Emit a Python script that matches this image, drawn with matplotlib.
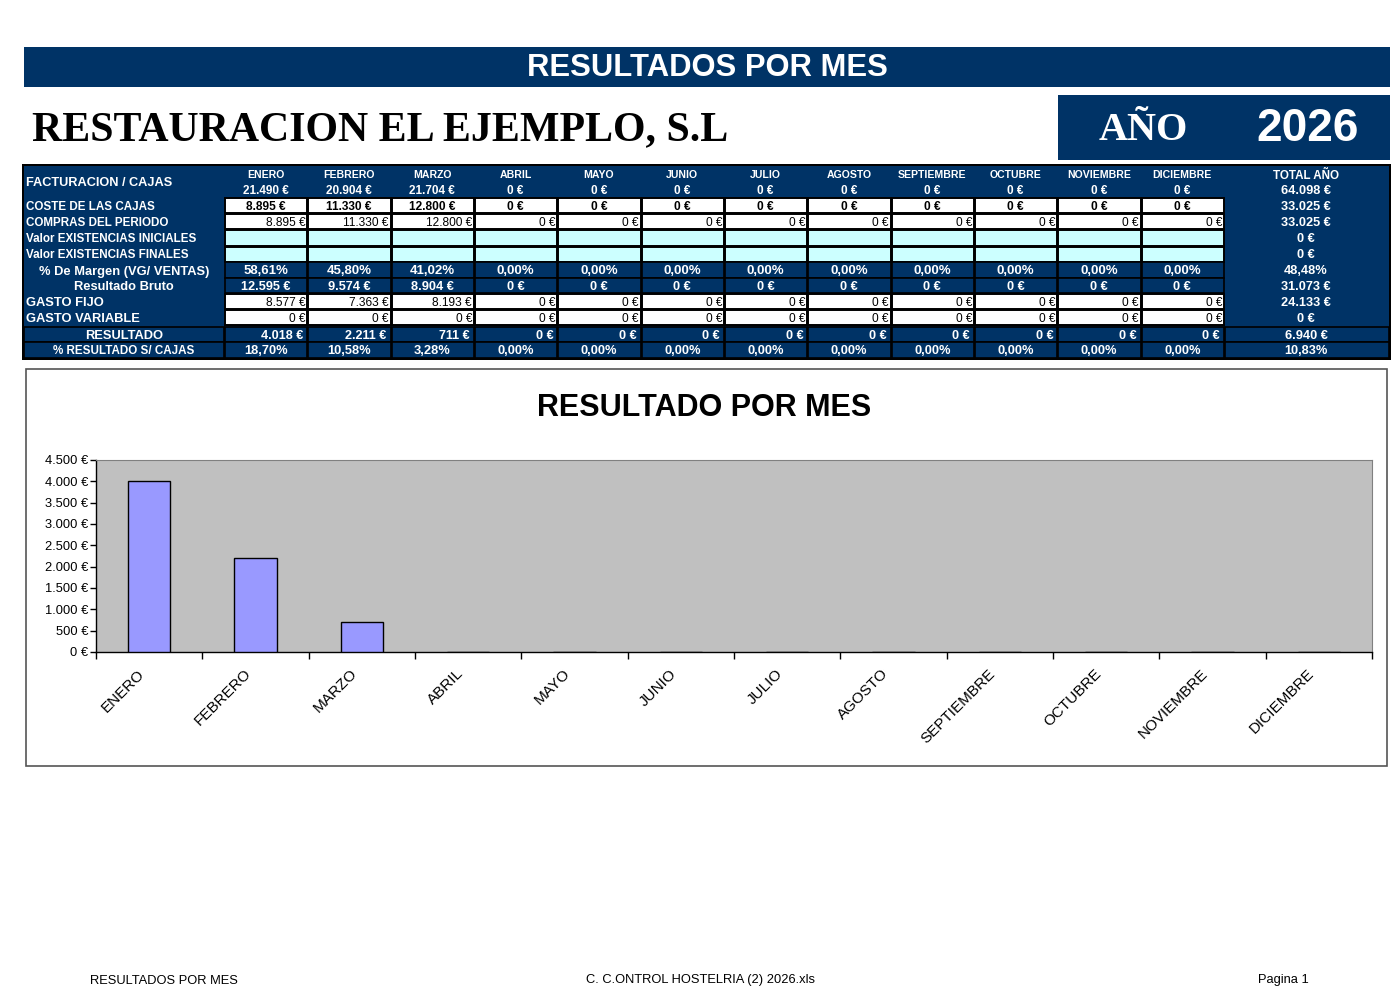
import matplotlib
matplotlib.use("Agg")
import matplotlib.pyplot as plt
import matplotlib.transforms as mtransforms
import numpy as np
from matplotlib.patches import Rectangle
from matplotlib.ticker import FuncFormatter, MultipleLocator

plt.rcParams['font.family'] = ['Liberation Sans', 'DejaVu Sans']

# ---- data ----
meses = ['ENERO', 'FEBRERO', 'MARZO', 'ABRIL', 'MAYO', 'JUNIO', 'JULIO',
         'AGOSTO', 'SEPTIEMBRE', 'OCTUBRE', 'NOVIEMBRE', 'DICIEMBRE']
facturacion = [21490, 20904, 21704, 0, 0, 0, 0, 0, 0, 0, 0, 0]
coste_cajas = [8895, 11330, 12800, 0, 0, 0, 0, 0, 0, 0, 0, 0]
compras = [8895, 11330, 12800, 0, 0, 0, 0, 0, 0, 0, 0, 0]
margen_pct = [58.61, 45.80, 41.02, 0, 0, 0, 0, 0, 0, 0, 0, 0]
resultado_bruto = [12595, 9574, 8904, 0, 0, 0, 0, 0, 0, 0, 0, 0]
gasto_fijo = [8577, 7363, 8193, 0, 0, 0, 0, 0, 0, 0, 0, 0]
gasto_variable = [0, 0, 0, 0, 0, 0, 0, 0, 0, 0, 0, 0]
resultado = [4018, 2211, 711, 0, 0, 0, 0, 0, 0, 0, 0, 0]
resultado_pct = [18.70, 10.58, 3.28, 0, 0, 0, 0, 0, 0, 0, 0, 0]

# total column: facturacion, coste, compras, exist. ini, exist. fin,
# margen, bruto, fijo, variable, resultado, % resultado
total_eur = [64098, 33025, 33025, 0, 0, None, 31073, 24133, 0, 6940, None]
total_pct = [None, None, None, None, None, 48.48, None, None, None, None, 10.83]

anio = '2026'
empresa = 'RESTAURACION EL EJEMPLO, S.L'

BLUE = '#003366'
CYAN = '#CCFFFF'


def eur(v):
    return f"{v:,.0f}".replace(',', '.') + ' €'


def pct(v):
    return f"{v:.2f}".replace('.', ',') + '%'


fig = plt.figure(figsize=(14, 9.89), dpi=100)
bg = fig.add_axes([0, 0, 1, 1])
bg.set_xlim(0, 1400)
bg.set_ylim(989, 0)
bg.axis('off')


def box(x0, y0, x1, y1, face, edge='none', lw=0):
    bg.add_patch(Rectangle((x0, y0), x1 - x0, y1 - y0, facecolor=face,
                           edgecolor=edge, linewidth=lw))


# header banner
box(24, 47, 1390, 87, BLUE)
bg.text(707, 68.5, 'RESULTADOS POR MES', color='white', fontsize=22.3,
        fontweight='bold', ha='center', va='center')
bg.text(32, 130, empresa, fontsize=30.2, fontweight='bold', ha='left',
        va='center', family='Liberation Serif')
box(1058, 95, 1390, 160, BLUE)
bg.text(1143, 130, 'AÑO', color='white', fontsize=29, fontweight='bold',
        ha='center', va='center', family='Liberation Serif')
bg.text(1308, 129, anio, color='white', fontsize=33, fontweight='bold',
        ha='center', va='center')

# table
box(22, 164, 1391, 360, 'black')
box(24, 166, 1389, 358, BLUE)

LX0, LX1 = 24, 224
CW = (1224 - 224) / 12
TX0, TX1 = 1224, 1389
DY = 1.5
rows = {
    'hdr1': (166, 182), 'hdr2': (182, 197), 'coste': (197, 213),
    'compras': (213, 229), 'ini': (229, 246), 'fin': (246, 262),
    'margen': (262, 278), 'bruto': (278, 293), 'fijo': (293, 309),
    'var': (309, 325), 'res': (327, 342), 'rpct': (342, 358),
}


def ymid(key):
    a, b = rows[key]
    return (a + b) / 2 + DY


def col(i):
    return LX1 + i * CW, LX1 + (i + 1) * CW


bg.text(26, (166 + 197) / 2 + DY, 'FACTURACION / CAJAS', color='white',
        fontsize=9.2, fontweight='bold', ha='left', va='center')
left_labels = [('coste', 'COSTE DE LAS CAJAS', 8.4),
               ('compras', 'COMPRAS DEL PERIODO', 8.4),
               ('ini', 'Valor EXISTENCIAS INICIALES', 8.4),
               ('fin', 'Valor EXISTENCIAS FINALES', 8.4),
               ('fijo', 'GASTO FIJO', 9.3),
               ('var', 'GASTO VARIABLE', 9.3)]
for key, lab, fs in left_labels:
    bg.text(26, ymid(key), lab, color='white', fontsize=fs,
            fontweight='bold', ha='left', va='center')
for key, lab in [('margen', '% De Margen (VG/ VENTAS)'), ('bruto', 'Resultado Bruto')]:
    bg.text(124, ymid(key), lab, color='white', fontsize=9.3,
            fontweight='bold', ha='center', va='center')
for key, lab, fs in [('res', 'RESULTADO', 9.3), ('rpct', '% RESULTADO S/ CAJAS', 8.4)]:
    a, b = rows[key]
    box(LX0, a, LX1, b, BLUE, 'black', 1.2)
    bg.text(124, ymid(key), lab, color='white', fontsize=fs,
            fontweight='bold', ha='center', va='center')

for i, m in enumerate(meses):
    x0, x1 = col(i)
    xc = (x0 + x1) / 2
    bg.text(xc, ymid('hdr1'), m, color='white', fontsize=7.6,
            fontweight='bold', ha='center', va='center')
    bg.text(xc, ymid('hdr2'), eur(facturacion[i]), color='white',
            fontsize=8.5, fontweight='bold', ha='center', va='center')
    # white cells
    for key, vals, bold, align in [('coste', coste_cajas, True, 'center'),
                                   ('compras', compras, False, 'right'),
                                   ('fijo', gasto_fijo, False, 'right'),
                                   ('var', gasto_variable, False, 'right')]:
        a, b = rows[key]
        box(x0 + 1, a + 0.5, x1, b, 'white', 'black', 1.4)
        tx = xc if align == 'center' else x1 - 2
        bg.text(tx, ymid(key) + 0.5, eur(vals[i]), color='black', fontsize=8.6,
                fontweight='bold' if bold else 'normal', ha=align, va='center')
    for key in ('ini', 'fin'):
        a, b = rows[key]
        box(x0 + 1, a + 0.5, x1, b, CYAN, 'black', 1.4)
    # blue bordered cells
    for key, text, align, fs in [('margen', pct(margen_pct[i]), 'center', 9.5),
                                 ('bruto', eur(resultado_bruto[i]), 'center', 9.2),
                                 ('res', eur(resultado[i]), 'right', 9.1),
                                 ('rpct', pct(resultado_pct[i]), 'center', 9.3)]:
        a, b = rows[key]
        box(x0 + 1, a, x1, b, BLUE, 'black', 1.2)
        tx = xc if align == 'center' else x1 - 4
        bg.text(tx, ymid(key), text, color='white', fontsize=fs,
                fontweight='bold', ha=align, va='center')

# total column
tx = (TX0 + TX1) / 2 - 0.5
bg.text(tx, ymid('hdr1'), 'TOTAL AÑO', color='white', fontsize=8.4,
        fontweight='bold', ha='center', va='center')
tkeys = ['hdr2', 'coste', 'compras', 'ini', 'fin', 'margen', 'bruto',
         'fijo', 'var', 'res', 'rpct']
for key, e, p in zip(tkeys, total_eur, total_pct):
    if key in ('res', 'rpct'):
        a, b = rows[key]
        box(TX0 + 1, a, TX1, b, BLUE, 'black', 1.2)
    txt = eur(e) if e is not None else pct(p)
    bg.text(tx, ymid(key), txt, color='white', fontsize=9.2,
            fontweight='bold', ha='center', va='center')

# chart frame
box(26, 369, 1387, 766, 'white', '#555555', 1.2)
bg.text(704, 408.5, 'RESULTADO POR MES', fontsize=22, fontweight='bold',
        ha='center', va='center')

# bar chart
L, R, T, B = 96, 1372, 460, 652
ax = fig.add_axes([L / 1400, 1 - B / 989, (R - L) / 1400, (B - T) / 989])
x = np.arange(len(meses))
ax.bar(x, resultado, width=0.4, color='#9999FF', edgecolor='black',
       linewidth=1.0, zorder=3)
ax.set_facecolor('#C0C0C0')
ax.set_xlim(-0.5, len(meses) - 0.5)
ax.set_ylim(0, 4500)
ax.yaxis.set_major_locator(MultipleLocator(500))
ax.yaxis.set_major_formatter(FuncFormatter(lambda v, _: eur(v)))
ax.tick_params(axis='y', length=4, width=1, pad=1.5, labelsize=9.3,
               direction='out', colors='black')
ax.set_xticks(np.arange(-0.5, len(meses), 1))
ax.set_xticklabels([])
ax.tick_params(axis='x', which='major', length=5, width=1, direction='out')
ax.set_xticks(x, minor=True)
ax.set_xticklabels(meses, minor=True, rotation=45, ha='right',
                   va='center', rotation_mode='anchor', fontsize=11)
ax.tick_params(axis='x', which='minor', length=0, pad=14)
shift = mtransforms.ScaledTranslation(-7 / 100, 0, fig.dpi_scale_trans)
for lab in ax.get_xticklabels(minor=True):
    lab.set_transform(lab.get_transform() + shift)
for s in ('top', 'right'):
    ax.spines[s].set_color('#808080')
for s in ('left', 'bottom'):
    ax.spines[s].set_color('black')
    ax.spines[s].set_linewidth(1.0)

# footer
bg.text(90, 980.5, 'RESULTADOS POR MES', fontsize=9.3, ha='left', va='center')
bg.text(700, 980.5, 'C. C.ONTROL HOSTELRIA (2) 2026.xls', fontsize=9.3,
        ha='center', va='center')
bg.text(1258, 980.5, 'Pagina 1', fontsize=9.3, ha='left', va='center')

fig.savefig('out.png', dpi=100, facecolor='white')
